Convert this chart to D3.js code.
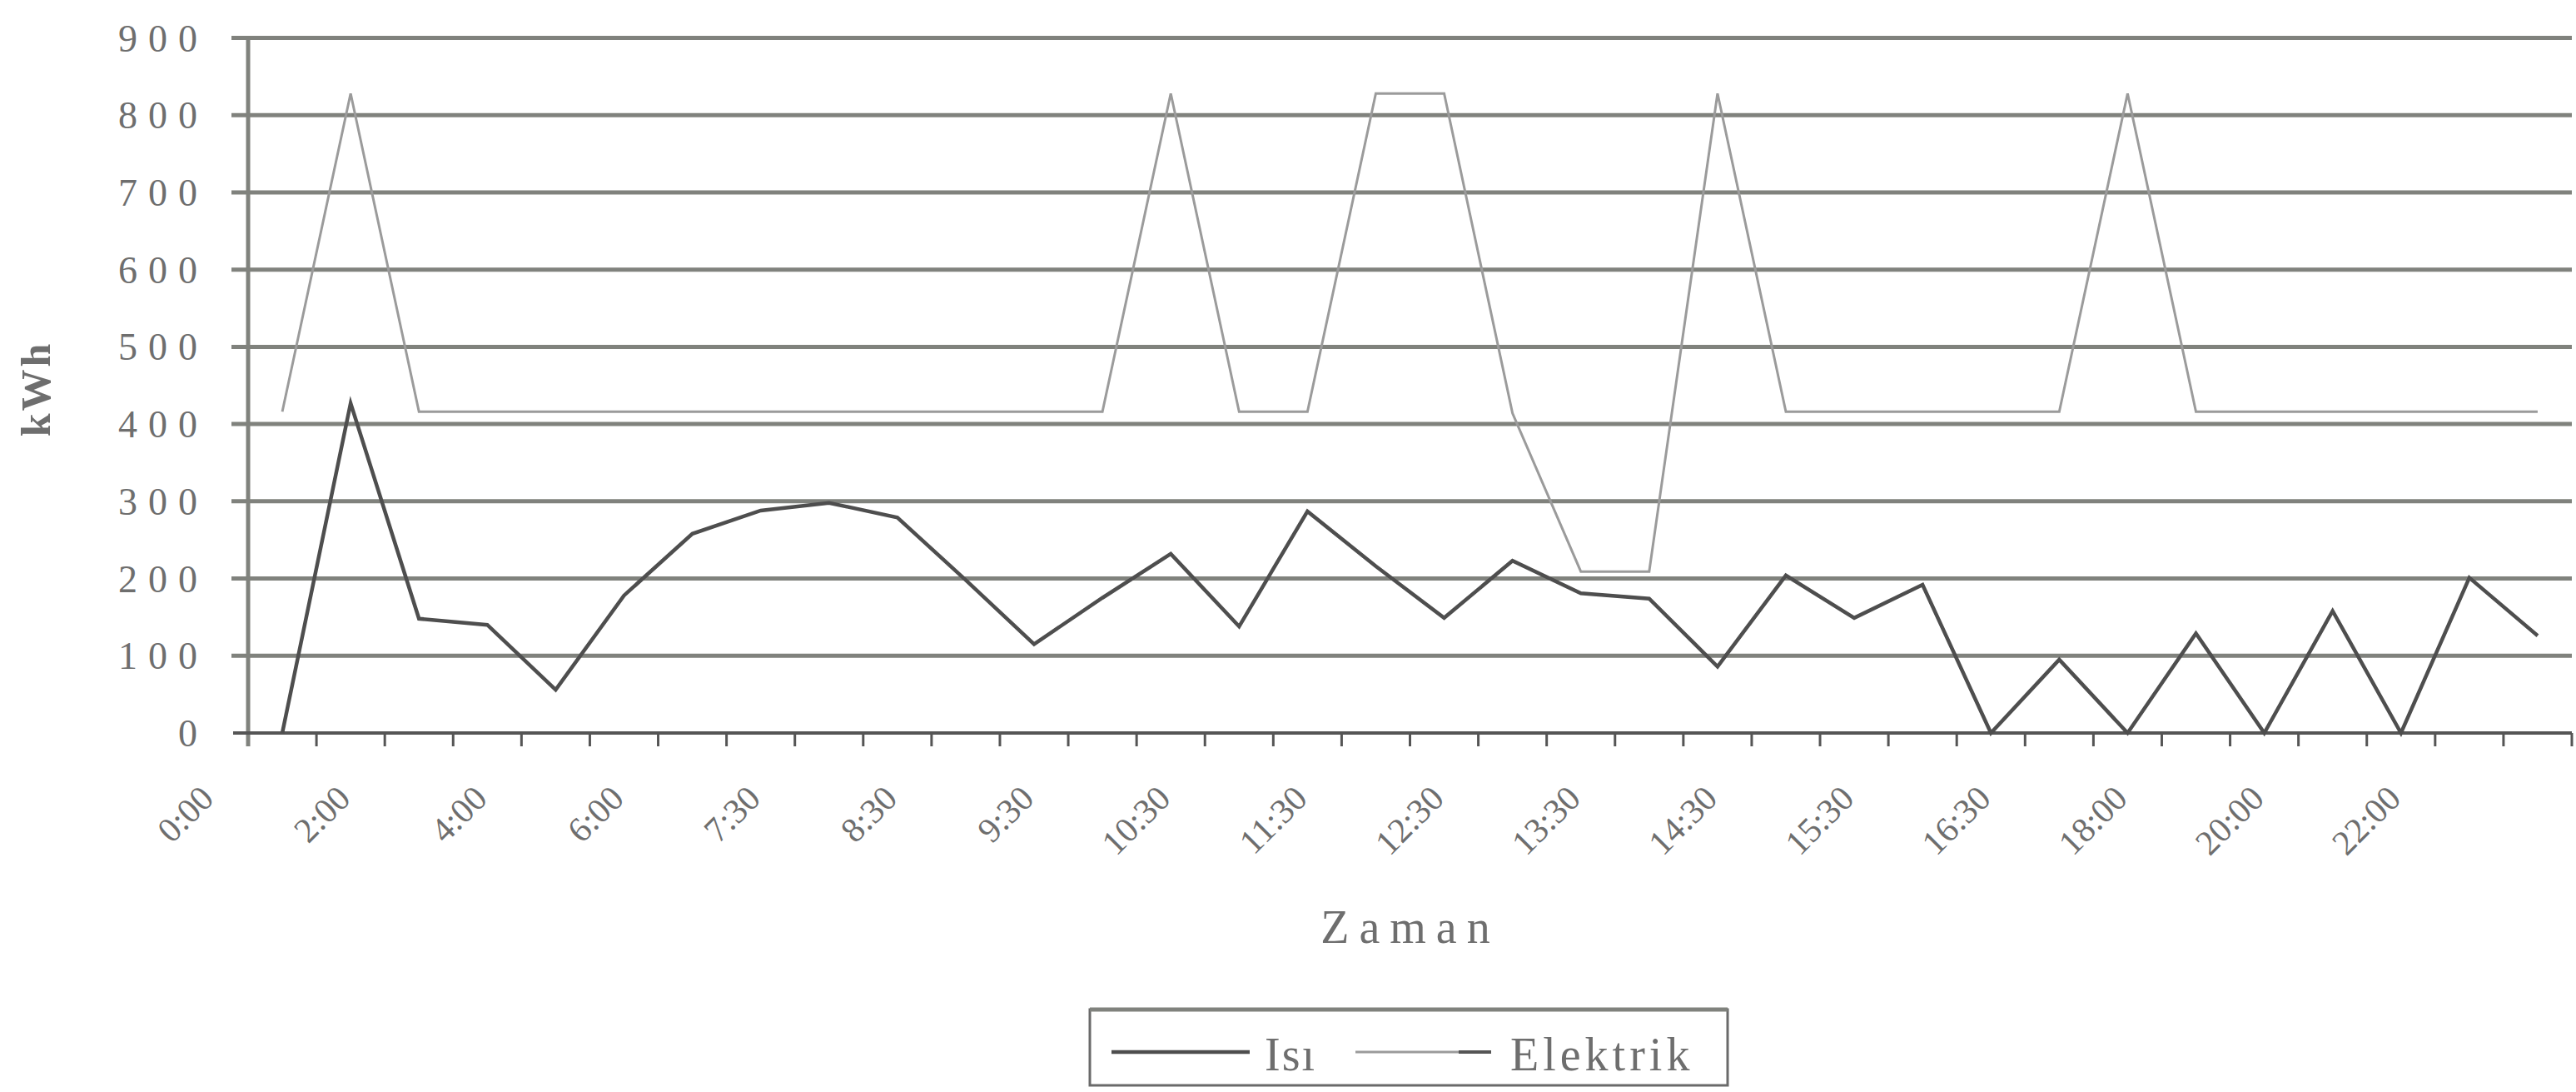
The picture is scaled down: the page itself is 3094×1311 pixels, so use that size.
<!DOCTYPE html>
<html>
<head>
<meta charset="utf-8">
<script src="https://cdn.jsdelivr.net/npm/d3@7/dist/d3.min.js"></script>
<style>
  html, body { margin: 0; padding: 0; background: #ffffff; }
  svg { display: block; }
</style>
</head>
<body>
<svg id="chart" width="3094" height="1311"></svg>
<script>
// ---- data ----
const categories = ["0:00","1:00","2:00","3:00","4:00","5:00","6:00","7:00","7:30","8:00","8:30","9:00","9:30","10:00","10:30","11:00","11:30","12:00","12:30","13:00","13:30","14:00","14:30","15:00","15:30","16:00","16:30","17:00","18:00","19:00","20:00","21:00","22:00","23:00"];
const tickLabels = ["0:00","2:00","4:00","6:00","7:30","8:30","9:30","10:30","11:30","12:30","13:30","14:30","15:30","16:30","18:00","20:00","22:00"];
const isiValues = [0,427,148,140,56,178,258,288,298,279,198,115,175,232,138,287,216,149,223,181,174,86,204,149,192,0,95,0,129,0,158,0,201,126];
const elektrikValues = [416,828,416,416,416,416,416,416,416,416,416,416,416,828,416,416,828,828,414,209,209,828,416,416,416,416,416,828,416,416,416,416,416,416];
const yTicks = [0,100,200,300,400,500,600,700,800,900];
const seriesNames = ["Isı","Elektrik"];
const xTitle = "Zaman";
const yTitle = "kWh";

(function () {
// ---- layout ----
const svg = d3.select("#chart");
const pLeft = 298, pRight = 3089, pTop = 45.5, pBottom = 880;
const serif = "'Liberation Serif', 'DejaVu Serif', serif";
const gridColor = "#80827d";
const textColor = "#6e6e6e";

const x = d3.scaleBand().domain(categories).range([pLeft, pRight]).paddingInner(0).paddingOuter(0);
const step = x.step();
const y = d3.scaleLinear().domain([0, 900]).range([pBottom, pTop]);
const cx = c => x(c) + step / 2;

// gridlines (excluding 0, which is the category axis)
svg.append("g").selectAll("line")
  .data(yTicks.filter(v => v > 0))
  .join("line")
  .attr("x1", pLeft - 20).attr("x2", pRight)
  .attr("y1", d => y(d)).attr("y2", d => y(d))
  .attr("stroke", gridColor).attr("stroke-width", 5);

// y axis line
svg.append("line")
  .attr("x1", pLeft).attr("x2", pLeft)
  .attr("y1", y(900) - 2).attr("y2", y(0) + 16)
  .attr("stroke", gridColor).attr("stroke-width", 5);

// y tick labels
svg.append("g").selectAll("text")
  .data(yTicks)
  .join("text")
  .attr("x", 250).attr("y", d => y(d))
  .attr("dy", "0.35em")
  .attr("text-anchor", "end")
  .attr("font-family", serif).attr("font-size", 46)
  .attr("letter-spacing", 13)
  .attr("fill", textColor)
  .text(d => d);

// x axis baseline (value 0)
svg.append("line")
  .attr("x1", pLeft - 18).attr("x2", pRight)
  .attr("y1", y(0)).attr("y2", y(0))
  .attr("stroke", "#555").attr("stroke-width", 4);

// tick marks at category boundaries
const boundaries = categories.slice(1).map(c => x(c)).concat([x.range()[1]]);
svg.append("g").selectAll("line")
  .data(boundaries)
  .join("line")
  .attr("x1", d => d).attr("x2", d => d)
  .attr("y1", y(0)).attr("y2", y(0) + 16)
  .attr("stroke", "#555").attr("stroke-width", 3);

// x axis labels via d3 axis
const xAxis = d3.axisBottom(x).tickValues(tickLabels).tickSize(0);
const gx = svg.append("g").attr("transform", `translate(0, ${y(0)})`).call(xAxis);
gx.select(".domain").remove();
gx.selectAll(".tick text")
  .attr("x", 0).attr("y", 0).attr("dy", 0)
  .attr("text-anchor", "end")
  .attr("transform", `translate(${-step + 2}, 81) rotate(-45)`)
  .attr("font-family", serif).attr("font-size", 42)
  .attr("fill", textColor);

// lines
const line = d3.line().x((d, i) => cx(categories[i])).y(d => y(d));
svg.append("path")
  .datum(elektrikValues)
  .attr("d", line)
  .attr("fill", "none")
  .attr("stroke", "#9b9b9b").attr("stroke-width", 3)
  .attr("stroke-linejoin", "miter");
svg.append("path")
  .datum(isiValues)
  .attr("d", line)
  .attr("fill", "none")
  .attr("stroke", "#4e4e4e").attr("stroke-width", 4.5)
  .attr("stroke-linejoin", "miter");

// axis titles
svg.append("text")
  .attr("transform", `translate(60, 467) rotate(-90)`)
  .attr("text-anchor", "middle")
  .attr("font-family", serif).attr("font-size", 50).attr("font-weight", "bold")
  .attr("letter-spacing", 3)
  .attr("fill", textColor)
  .text(yTitle);

svg.append("text")
  .attr("x", 1694).attr("y", 1132)
  .attr("text-anchor", "middle")
  .attr("font-family", serif).attr("font-size", 56)
  .attr("letter-spacing", 12)
  .attr("fill", textColor)
  .text(xTitle);

// legend
const lg = svg.append("g");
lg.append("rect")
  .attr("x", 1309).attr("y", 1212).attr("width", 766).attr("height", 91)
  .attr("fill", "none").attr("stroke", "#6a6a6a").attr("stroke-width", 3);
lg.append("line").attr("x1", 1309).attr("x2", 2075).attr("y1", 1212).attr("y2", 1212)
  .attr("stroke", gridColor).attr("stroke-width", 5);
lg.append("line").attr("x1", 1335).attr("x2", 1501).attr("y1", 1263).attr("y2", 1263)
  .attr("stroke", "#4e4e4e").attr("stroke-width", 4.5);
lg.append("text").attr("x", 1519).attr("y", 1285)
  .attr("font-family", serif).attr("font-size", 56).attr("letter-spacing", 2)
  .attr("fill", textColor).text(seriesNames[0]);
lg.append("line").attr("x1", 1628).attr("x2", 1752).attr("y1", 1263).attr("y2", 1263)
  .attr("stroke", "#9b9b9b").attr("stroke-width", 3);
lg.append("line").attr("x1", 1752).attr("x2", 1791).attr("y1", 1263).attr("y2", 1263)
  .attr("stroke", "#555").attr("stroke-width", 4);
lg.append("text").attr("x", 1814).attr("y", 1285)
  .attr("font-family", serif).attr("font-size", 56).attr("letter-spacing", 5)
  .attr("fill", textColor).text(seriesNames[1]);
})();
</script>
</body>
</html>
